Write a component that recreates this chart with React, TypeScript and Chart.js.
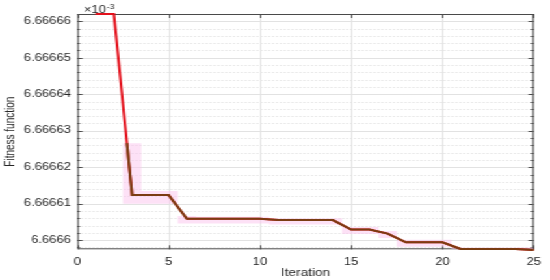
import React, { useEffect, useRef } from "react";
import { Chart, registerables } from "chart.js";

Chart.register(...registerables);

// ---- data (values in units of 1e-3) ----
const iterations = [1, 2, 3, 4, 5, 6, 7, 8, 9, 10, 11, 12, 13, 14, 15, 16, 17, 18, 19, 20, 21, 22, 23, 24, 25];
const bestFitness = [
  6.666662, 6.666662, 6.6666124, 6.6666124, 6.6666124, 6.6666059, 6.6666059, 6.6666059, 6.6666059, 6.6666059,
  6.6666055, 6.6666055, 6.6666055, 6.6666055, 6.6666029, 6.6666029, 6.6666018, 6.6665994, 6.6665994, 6.6665994,
  6.6665976, 6.6665976, 6.6665976, 6.6665976, 6.6665973,
];
const meanIterations = [2.714, 3, 4, 5, 6, 7, 8, 9, 10, 11, 12, 13, 14, 15, 16, 17, 18, 19, 20, 21, 22, 23, 24, 25];
const meanFitness = [
  6.6666266, 6.6666124, 6.6666124, 6.6666124, 6.6666059, 6.6666059, 6.6666059, 6.6666059, 6.6666059,
  6.6666055, 6.6666055, 6.6666055, 6.6666055, 6.6666029, 6.6666029, 6.6666018, 6.6665994, 6.6665994, 6.6665994,
  6.6665976, 6.6665976, 6.6665976, 6.6665976, 6.6665973,
];
const bandUpper = [
  6.666662, 6.666662, 6.6666266, 6.6666135, 6.6666135, 6.6666066, 6.6666064, 6.6666064, 6.6666064, 6.6666064,
  6.666606, 6.666606, 6.666606, 6.666606, 6.6666036, 6.6666036, 6.6666025, 6.6666001, 6.6666001, 6.6666001,
  6.666598, 6.666598, 6.666598, 6.666598, 6.666598,
];
const bandLower = [
  6.666662, 6.666662, 6.666610, 6.666610, 6.666610, 6.6666046, 6.6666046, 6.6666046, 6.6666046, 6.6666046,
  6.6666043, 6.6666043, 6.6666043, 6.6666043, 6.6666017, 6.6666017, 6.6666006, 6.6665982, 6.6665982, 6.6665982,
  6.6665968, 6.6665968, 6.6665968, 6.6665968, 6.6665968,
];
const xTicks = [0, 5, 10, 15, 20, 25];
const yTicks = [6.6666, 6.66661, 6.66662, 6.66663, 6.66664, 6.66665, 6.66666];
const yMinorStep = 0.000002;
const yMin = 6.6665975;
const yMax = 6.666662;
const xTitle = "Iteration";
const yTitle = "Fitness function";
const exponentBase = "\u00d710";
const exponentPower = "-3";

const FONT = "'Liberation Sans', Arial, Helvetica, sans-serif";
const TEXT = "#262626";
const CANVAS_W = 423;
const CANVAS_H = 280;
const STRETCH = 550 / CANVAS_W;

const gridPlugin = {
  id: "matlabGrid",
  beforeDatasetsDraw(chart: any) {
    const { ctx, chartArea } = chart;
    const { left, right, top, bottom } = chartArea;
    const x = chart.scales.x;
    const y = chart.scales.y;
    ctx.save();
    ctx.lineWidth = 1;
    // minor dotted horizontal grid
    ctx.strokeStyle = "#d6d6d6";
    ctx.setLineDash([1, 2]);
    const k0 = Math.ceil(yMin / yMinorStep - 1e-6);
    const k1 = Math.floor(yMax / yMinorStep + 1e-6);
    for (let k = k0; k <= k1; k++) {
      if (k % 5 === 0) continue;
      const py = Math.round(y.getPixelForValue(k * yMinorStep)) + 0.5;
      ctx.beginPath();
      ctx.moveTo(left, py);
      ctx.lineTo(right, py);
      ctx.stroke();
    }
    ctx.setLineDash([]);
    ctx.strokeStyle = "#e2e2e2";
    yTicks.forEach((v) => {
      const py = Math.round(y.getPixelForValue(v)) + 0.5;
      ctx.beginPath();
      ctx.moveTo(left, py);
      ctx.lineTo(right, py);
      ctx.stroke();
    });
    xTicks.forEach((v) => {
      const px = Math.round(x.getPixelForValue(v)) + 0.5;
      ctx.beginPath();
      ctx.moveTo(px, top);
      ctx.lineTo(px, bottom);
      ctx.stroke();
    });
    // axes box and inward ticks
    ctx.strokeStyle = "#4a4a4a";
    ctx.strokeRect(left + 0.5, top + 0.5, right - left - 1, bottom - top - 1);
    for (let k = k0; k <= k1; k++) {
      const len = k % 5 === 0 ? 4 : 2;
      const py = Math.round(y.getPixelForValue(k * yMinorStep)) + 0.5;
      ctx.beginPath();
      ctx.moveTo(left, py);
      ctx.lineTo(left + len, py);
      ctx.moveTo(right, py);
      ctx.lineTo(right - len, py);
      ctx.stroke();
    }
    xTicks.forEach((v) => {
      const px = Math.round(x.getPixelForValue(v)) + 0.5;
      ctx.beginPath();
      ctx.moveTo(px, bottom);
      ctx.lineTo(px, bottom - 4);
      ctx.moveTo(px, top);
      ctx.lineTo(px, top + 4);
      ctx.stroke();
    });
    ctx.restore();
  },
  afterDraw(chart: any) {
    const { ctx, chartArea } = chart;
    const { left, top } = chartArea;
    ctx.save();
    ctx.fillStyle = TEXT;
    ctx.textBaseline = "alphabetic";
    ctx.textAlign = "left";
    ctx.font = `10px ${FONT}`;
    const bx = left + 5;
    ctx.fillText(exponentBase, bx, top - 1);
    const w = ctx.measureText(exponentBase).width;
    ctx.font = `7px ${FONT}`;
    ctx.fillText(exponentPower, bx + w + 0.5, top - 5.5);
    ctx.restore();
  },
};

export default function App() {
  const ref = useRef<HTMLCanvasElement | null>(null);
  useEffect(() => {
    if (!ref.current) return;
    const chart = new Chart(ref.current, {
      type: "line",
      data: {
        datasets: [
          {
            label: "mean",
            data: meanIterations.map((v, i) => ({ x: v, y: meanFitness[i] })),
            borderColor: "#7a3c12",
            borderWidth: 2,
            pointRadius: 0,
            fill: false,
            clip: false,
          } as any,
          {
            label: "best",
            data: iterations.map((v, i) => ({ x: v, y: bestFitness[i] })),
            borderColor: "#e3101b",
            borderWidth: 2,
            pointRadius: 0,
            fill: false,
            clip: false,
          } as any,
          {
            label: "upper",
            data: iterations.map((v, i) => ({ x: v, y: bandUpper[i] })),
            borderWidth: 0,
            borderColor: "rgba(0,0,0,0)",
            backgroundColor: "rgba(252,196,238,0.5)",
            pointRadius: 0,
            stepped: "middle",
            fill: "+1",
          } as any,
          {
            label: "lower",
            data: iterations.map((v, i) => ({ x: v, y: bandLower[i] })),
            borderWidth: 0,
            borderColor: "rgba(0,0,0,0)",
            pointRadius: 0,
            stepped: "middle",
            fill: false,
          } as any,
        ],
      },
      options: {
        animation: false,
        responsive: false,
        devicePixelRatio: 1,
        layout: { padding: { top: 14, right: 9, left: 0, bottom: 0 } },
        plugins: { legend: { display: false }, tooltip: { enabled: false } },
        scales: {
          x: {
            type: "linear",
            min: 0,
            max: 25,
            grid: { display: false, drawTicks: false },
            border: { display: false },
            afterBuildTicks: (s: any) => {
              s.ticks = xTicks.map((v) => ({ value: v }));
            },
            afterFit: (s: any) => {
              s.height = 30.7;
            },
            ticks: {
              padding: 7,
              color: TEXT,
              font: { family: FONT, size: 10 },
              maxRotation: 0,
            },
            title: {
              display: true,
              text: xTitle,
              color: TEXT,
              font: { family: FONT, size: 10.5, lineHeight: 1.2 },
              padding: { top: 0, bottom: 1 },
            },
          },
          y: {
            type: "linear",
            min: yMin,
            max: yMax,
            grid: { display: false, drawTicks: false },
            border: { display: false },
            afterBuildTicks: (s: any) => {
              s.ticks = yTicks.map((v) => ({ value: v }));
            },
            afterFit: (s: any) => {
              s.width = 59.5;
            },
            ticks: {
              padding: 5,
              color: TEXT,
              font: { family: FONT, size: 10 },
              callback: (v: any) => String(Number(Number(v).toFixed(5))),
            },
            title: {
              display: true,
              text: yTitle,
              color: TEXT,
              font: { family: FONT, size: 10, lineHeight: 1.2 },
              padding: { top: 2.5, bottom: 0 },
            },
          },
        },
      },
      plugins: [gridPlugin],
    } as any);
    return () => chart.destroy();
  }, []);
  return (
    <div
      style={{
        position: "absolute",
        left: 0,
        top: 0,
        width: CANVAS_W,
        height: CANVAS_H,
        transform: `scale(${STRETCH}, 1)`,
        transformOrigin: "0 0",
        background: "#fff",
      }}
    >
      <canvas ref={ref} width={CANVAS_W} height={CANVAS_H} />
    </div>
  );
}
